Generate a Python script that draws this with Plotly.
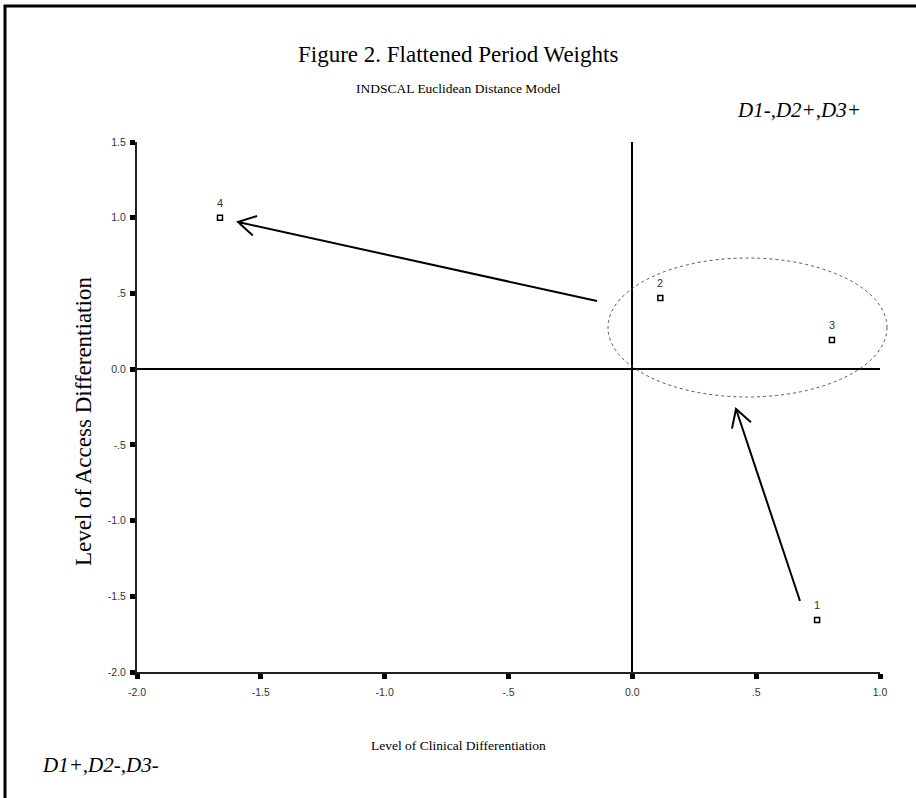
import math
import plotly.graph_objects as go

# ---- data ----
point_labels = ["1", "2", "3", "4"]
dim1_values = [0.746, 0.113, 0.806, -1.665]   # Level of Clinical Differentiation
dim2_values = [-1.656, 0.470, 0.192, 1.000]   # Level of Access Differentiation

x_tick_vals = [-2.0, -1.5, -1.0, -0.5, 0.0, 0.5, 1.0]
x_tick_text = ["-2.0", "-1.5", "-1.0", "-.5", "0.0", ".5", "1.0"]
y_tick_vals = [-2.0, -1.5, -1.0, -0.5, 0.0, 0.5, 1.0, 1.5]
y_tick_text = ["-2.0", "-1.5", "-1.0", "-.5", "0.0", ".5", "1.0", "1.5"]

# ---- layout geometry (pixels) ----
W, H = 916, 798
L, R, T, B = 137, 36, 142, 126
PW, PH = W - L - R, H - T - B


def P(px, py):
    """pixel -> paper coordinates"""
    return (px - L) / PW, (H - B - py) / PH


fig = go.Figure()
fig.add_trace(go.Scatter(
    x=dim1_values, y=dim2_values, mode="markers",
    marker=dict(symbol="square-open", size=5, color="black", line=dict(width=1.5, color="black")),
    cliponaxis=False, showlegend=False, hoverinfo="skip",
))

shapes = []
# outer frame
x0, y0 = P(5, 6)
x1, y1 = P(940, 830)
shapes.append(dict(type="rect", xref="paper", yref="paper", x0=x0, y0=y1, x1=x1, y1=y0,
                   line=dict(color="black", width=3)))
# dotted ellipse
ex0, ey0 = P(608, 258)
ex1, ey1 = P(887, 397)
shapes.append(dict(type="circle", xref="paper", yref="paper", x0=ex0, y0=ey1, x1=ex1, y1=ey0,
                   line=dict(color="#555555", width=1, dash="dot")))


def arrow(tail, tip, head=20, ang=30):
    tx, ty = tail
    hx, hy = tip
    dx, dy = tx - hx, ty - hy
    n = math.hypot(dx, dy)
    ux, uy = dx / n, dy / n
    pts = []
    for a in (ang, -ang):
        r = math.radians(a)
        vx = ux * math.cos(r) - uy * math.sin(r)
        vy = ux * math.sin(r) + uy * math.cos(r)
        pts.append((hx + head * vx, hy + head * vy))

    def s(p):
        x, y = P(*p)
        return f"{x},{y}"
    path = (f"M{s(tail)} L{s(tip)} M{s(pts[0])} L{s(tip)} L{s(pts[1])}")
    return dict(type="path", xref="paper", yref="paper", path=path,
                line=dict(color="black", width=2))


shapes.append(arrow((597, 301), (238, 222)))
shapes.append(arrow((800, 601), (736, 409)))

annotations = []

# point labels
for lab, xv, yv in zip(point_labels, dim1_values, dim2_values):
    annotations.append(dict(
        text=lab, x=xv, y=yv, xref="x", yref="y", showarrow=False,
        xanchor="center", yanchor="middle", yshift=15,
        font=dict(family="Liberation Sans, Arial", size=11, color="#333333")))


def txt(text, px, py, size, italic=False, angle=0, xanchor="center"):
    x, y = P(px, py)
    annotations.append(dict(
        text=(f"<i>{text}</i>" if italic else text), x=x, y=y, xref="paper", yref="paper",
        showarrow=False, xanchor=xanchor, yanchor="middle", textangle=angle,
        font=dict(family="Liberation Serif, Times New Roman", size=size, color="black")))


txt("Figure 2. Flattened Period Weights", 458, 55, 23)
txt("INDSCAL Euclidean Distance Model", 458, 88, 13.5)
txt("D1-,D2+,D3+", 799, 110, 21, italic=True)
txt("D1+,D2-,D3-", 100, 765, 21, italic=True)
txt("Level of Clinical Differentiation", 458, 745, 13.5)
txt("Level of Access Differentiation", 83, 422, 23, angle=-90)

axis_common = dict(
    showgrid=False, zeroline=True, zerolinecolor="black", zerolinewidth=2,
    showline=True, linecolor="#222222", linewidth=2,
    ticks="outside", ticklen=5, tickwidth=5, tickcolor="black",
    tickfont=dict(family="Liberation Sans, Arial", size=10.5, color="#333333"),
    fixedrange=True,
)

fig.update_layout(
    width=W, height=H,
    margin=dict(l=L, r=R, t=T, b=B),
    paper_bgcolor="white", plot_bgcolor="white",
    xaxis=dict(range=[-2.0, 1.0], tickvals=x_tick_vals, ticktext=x_tick_text,
               ticklabelstandoff=4, **axis_common),
    yaxis=dict(range=[-2.0, 1.5], tickvals=y_tick_vals, ticktext=y_tick_text,
               ticklabelstandoff=2, **axis_common),
    shapes=shapes, annotations=annotations,
)

fig.write_html("out.html", config={"displayModeBar": False},
               post_script="document.body.style.margin='0';")
